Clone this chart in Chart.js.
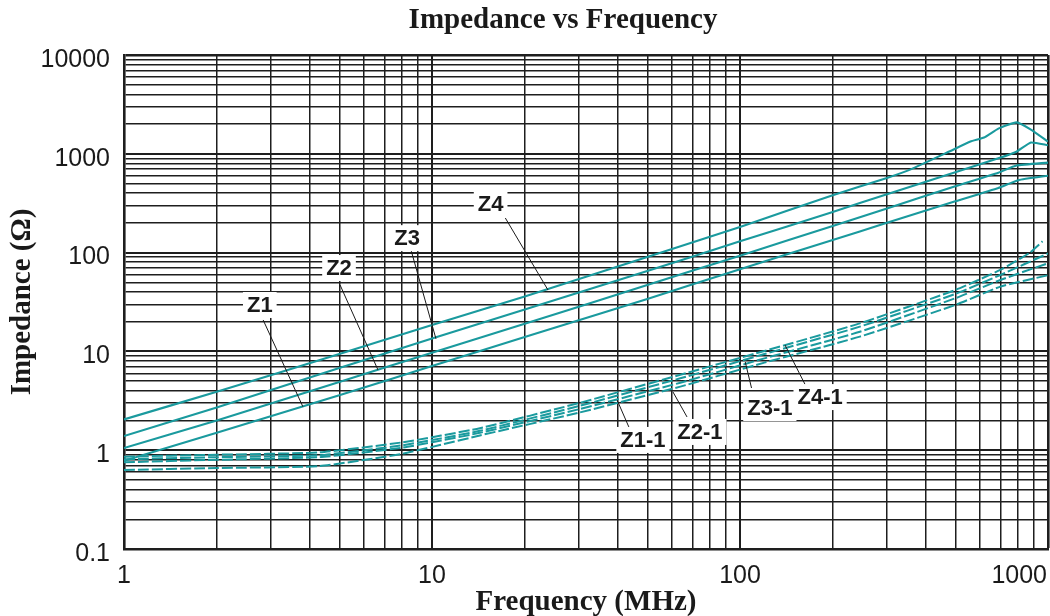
<!DOCTYPE html>
<html>
<head>
<meta charset="utf-8">
<title>Impedance vs Frequency</title>
<script src="https://cdn.jsdelivr.net/npm/chart.js@4.4.1/dist/chart.umd.min.js"></script>
<style>
    html, body { margin: 0; padding: 0; background: #fff; }
    canvas { display: block; }
</style>
</head>
<body>
<canvas id="chart" width="1050" height="616"></canvas>
<script>
// Solid curves (frequency in MHz, impedance in Ohm)
const frequencyZ4 = [1, 2, 5, 10, 20, 50, 100, 200, 300, 360, 480, 560, 620, 690, 790, 880, 1000];
const impedanceZ4 = [2.05, 3.9, 9.4, 18.5, 36, 90, 182, 380, 570, 700, 1060, 1330, 1460, 1800, 2080, 1760, 1330];

const frequencyZ3 = [1, 2, 5, 10, 20, 50, 100, 200, 300, 500, 690, 790, 880, 1000];
const impedanceZ3 = [1.39, 2.7, 6.8, 13.5, 26.5, 65, 130, 258, 390, 650, 900, 1050, 1300, 1220];

const frequencyZ2 = [1, 2, 5, 10, 20, 50, 100, 200, 300, 500, 690, 790, 1000];
const impedanceZ2 = [1.05, 2.0, 4.9, 9.7, 19, 47, 93, 186, 280, 470, 644, 760, 815];

const frequencyZ1 = [1, 2, 5, 10, 20, 50, 100, 200, 300, 500, 690, 800, 1000];
const impedanceZ1 = [0.78, 1.5, 3.6, 7.1, 14, 34, 68, 134, 200, 330, 451, 540, 600];

// Dashed curves
const frequencyZ41 = [1, 2, 4.3, 8, 14.3, 30, 64, 120, 245, 500, 700, 870, 960];
const impedanceZ41 = [0.86, 0.9, 0.95, 1.2, 1.67, 3.0, 5.8, 10.1, 19.2, 41.8, 66.7, 99, 130];

const frequencyZ31 = [1, 2, 4.3, 8, 14.3, 30, 64, 120, 245, 500, 700, 1000];
const impedanceZ31 = [0.81, 0.85, 0.89, 1.12, 1.57, 2.8, 5.34, 9.4, 17.8, 38.1, 59.3, 98];

const frequencyZ21 = [1, 2, 4.3, 8, 14.3, 30, 64, 120, 245, 500, 700, 1000];
const impedanceZ21 = [0.755, 0.8, 0.85, 1.06, 1.5, 2.6, 4.82, 8.5, 15.8, 34.5, 52.8, 78];

const frequencyZ11 = [1, 2, 4.3, 8, 14.3, 30, 64, 120, 245, 500, 700, 1000];
const impedanceZ11 = [0.63, 0.66, 0.69, 0.92, 1.41, 2.4, 4.4, 7.7, 14.1, 29.5, 45.2, 59];

// Axis ranges and labelled ticks
const frequencyRange = [1, 1000];
const impedanceRange = [0.1, 10000];
const frequencyTickLabels = [1, 10, 100, 1000];

// Callouts: text, label anchor, leader start, leader end (all in data space)
const calloutTexts = ["Z1", "Z2", "Z3", "Z4", "Z1-1", "Z2-1", "Z3-1", "Z4-1"];
const calloutLabelAt = [[2.76, 29.5], [4.99, 69.8], [8.3, 140], [15.5, 310], [48.4, 1.27], [74.1, 1.53], [125, 2.67], [182, 3.45]];
const calloutLeaderFrom = [[2.83, 20.8], [5.03, 47], [8.55, 106], [17.3, 224], [44, 1.6], [67.3, 2.17], [109, 4.26], [163, 4.57]];
const calloutLeaderTo = [[3.81, 2.75], [6.68, 6.48], [10.3, 13.4], [23.8, 41.8], [39.9, 3.22], [60.6, 3.88], [104, 7.82], [140, 11.6]];

const CHART_TITLE = "Impedance vs Frequency";
const CURVE_COLOR = "#1a9a9e";
const INK         = "#1a1a1a";
const GRID_COLOR  = "#1e1e1e";

/**
 * Pairs two arrays into {x, y} points.
 *
 * @param {number[]} xs
 * @param {number[]} ys
 *
 * @returns {Object[]}
 */
function toPoints(xs, ys)
{
    return xs.map((x, i) => ({ x: x, y: ys[i] }));
}

/**
 * @param {number} value
 *
 * @returns {boolean}
 */
function isDecade(value)
{
    const exp = Math.log10(value);

    return Math.abs(exp - Math.round(exp)) < 1e-6;
}

/**
 * Lists 1..9 times every power of ten between min and max.
 *
 * @param {number} min
 * @param {number} max
 *
 * @returns {number[]}
 */
function logGridValues(min, max)
{
    const values = [];

    for (let exp = Math.round(Math.log10(min)); exp < Math.round(Math.log10(max)); exp++) {
        for (let m = 1; m < 10; m++) {
            values.push(parseFloat((m * Math.pow(10, exp)).toPrecision(6)));
        }
    }

    values.push(max);

    return values;
}

/**
 * Grid options shared by both axes, decades and the far edges drawn heavier.
 *
 * @param {number} max
 *
 * @returns {Object}
 */
function gridOptions(max)
{
    return {
        color: GRID_COLOR,
        drawTicks: false,
        lineWidth: (context) => {
            if (!context.tick) {
                return 1.5;
            }
            if (Math.abs(context.tick.value - max) < 1e-6) {
                return 2.6;
            }

            return isDecade(context.tick.value) ? 2 : 1.5;
        },
    };
}

const curveDefs = [
    { label: "Z4",   xs: frequencyZ4,  ys: impedanceZ4,  dashed: false },
    { label: "Z3",   xs: frequencyZ3,  ys: impedanceZ3,  dashed: false },
    { label: "Z2",   xs: frequencyZ2,  ys: impedanceZ2,  dashed: false },
    { label: "Z1",   xs: frequencyZ1,  ys: impedanceZ1,  dashed: false },
    { label: "Z4-1", xs: frequencyZ41, ys: impedanceZ41, dashed: true },
    { label: "Z3-1", xs: frequencyZ31, ys: impedanceZ31, dashed: true },
    { label: "Z2-1", xs: frequencyZ21, ys: impedanceZ21, dashed: true },
    { label: "Z1-1", xs: frequencyZ11, ys: impedanceZ11, dashed: true },
];

/**
 * Draws the title, the frequency tick labels and the curve callouts.
 */
const decorations = {
    id: "decorations",

    afterDraw(chart)
    {
        const { ctx, chartArea } = chart;
        const xScale = chart.scales.x;
        const yScale = chart.scales.y;

        ctx.save();
        ctx.textAlign    = "center";
        ctx.textBaseline = "middle";
        ctx.fillStyle    = INK;

        ctx.font = "bold 29px 'Liberation Serif'";
        ctx.fillText(CHART_TITLE, 563, 21);

        // Frequency tick labels, the last one kept inside the canvas
        ctx.font = "25px 'Liberation Sans'";
        frequencyTickLabels.forEach((value) => {
            const text  = String(value);
            const half  = ctx.measureText(text).width / 2;
            const px    = Math.min(xScale.getPixelForValue(value), chart.width - 3 - half);

            ctx.fillText(text, px, chartArea.bottom + 27);
        });

        // Callouts
        ctx.font = "bold 22px 'Liberation Sans'";
        calloutTexts.forEach((text, i) => {
            const fx = xScale.getPixelForValue(calloutLeaderFrom[i][0]);
            const fy = yScale.getPixelForValue(calloutLeaderFrom[i][1]);
            const tx = xScale.getPixelForValue(calloutLeaderTo[i][0]);
            const ty = yScale.getPixelForValue(calloutLeaderTo[i][1]);

            ctx.strokeStyle = INK;
            ctx.lineWidth   = 1;
            ctx.beginPath();
            ctx.moveTo(fx, fy);
            ctx.lineTo(tx, ty);
            ctx.stroke();

            const cx = xScale.getPixelForValue(calloutLabelAt[i][0]);
            const cy = yScale.getPixelForValue(calloutLabelAt[i][1]);
            const w  = ctx.measureText(text).width + 8;
            const h  = 26;

            ctx.fillStyle = "#fff";
            ctx.fillRect(cx - w / 2, cy - h / 2, w, h);
            ctx.fillStyle = INK;
            ctx.fillText(text, cx, cy + 1);
        });

        ctx.restore();
    },
};

new Chart(document.getElementById("chart"), {
    type: "line",
    data: {
        datasets: curveDefs.map((def) => ({
            label: def.label,
            data: toPoints(def.xs, def.ys),
            borderColor: CURVE_COLOR,
            borderWidth: def.dashed ? 2 : 2.1,
            borderDash: def.dashed ? [11, 3] : [],
            pointRadius: 0,
            tension: 0.15,
            fill: false,
        })),
    },
    options: {
        responsive: false,
        animation: false,
        devicePixelRatio: 1,
        layout: {
            padding: { top: 55, right: 2, bottom: 0, left: 0 },
        },
        plugins: {
            legend: { display: false },
            tooltip: { enabled: false },
            title: { display: false },
        },
        scales: {
            x: {
                type: "logarithmic",
                position: "bottom",
                min: frequencyRange[0],
                max: frequencyRange[1],
                afterBuildTicks: (scale) => {
                    scale.ticks = logGridValues(frequencyRange[0], frequencyRange[1])
                        .map((v) => ({ value: v, major: isDecade(v) }));
                },
                afterFit: (scale) => {
                    scale.height = 67;
                },
                grid: gridOptions(frequencyRange[1]),
                border: { color: GRID_COLOR, width: 2.6 },
                ticks: { display: false },
                title: {
                    display: true,
                    text: "Frequency (MHz)",
                    color: INK,
                    font: { family: "Liberation Serif", size: 29, weight: "bold" },
                    padding: { top: 0, bottom: -4 },
                },
            },
            y: {
                type: "logarithmic",
                position: "left",
                min: impedanceRange[0],
                max: impedanceRange[1],
                afterBuildTicks: (scale) => {
                    scale.ticks = logGridValues(impedanceRange[0], impedanceRange[1])
                        .map((v) => ({ value: v, major: isDecade(v) }));
                },
                afterFit: (scale) => {
                    scale.width = 124;
                },
                grid: gridOptions(impedanceRange[1]),
                border: { color: GRID_COLOR, width: 2.6 },
                ticks: {
                    autoSkip: false,
                    padding: 14,
                    labelOffset: 5,
                    color: INK,
                    font: { family: "Liberation Sans", size: 25 },
                    callback: (value) => {
                        if (!isDecade(value)) {
                            return "";
                        }

                        return value < 1 ? String(value) : String(Math.round(value));
                    },
                },
                title: {
                    display: true,
                    text: "Impedance (Ω)",
                    color: INK,
                    font: { family: "Liberation Serif", size: 29, weight: "bold" },
                    padding: { top: 5, bottom: 0 },
                },
            },
        },
    },
    plugins: [decorations],
});
</script>
</body>
</html>
